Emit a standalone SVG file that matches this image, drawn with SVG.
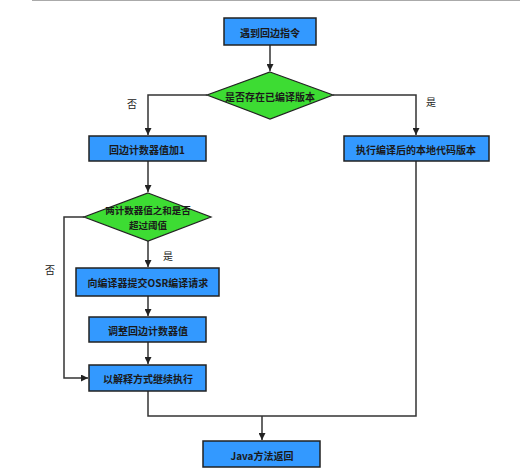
<svg xmlns="http://www.w3.org/2000/svg" width="520" height="475" viewBox="0 0 520 475">
<style>
.box{fill:#3399ff;stroke:#222;stroke-width:1.5}
.dia{fill:#3ddc33;stroke:#222;stroke-width:1.2}
.t{font-family:"Noto Sans CJK SC","Liberation Sans",sans-serif;font-size:10px;font-weight:bold;fill:#1a1a1a;text-anchor:middle;dominant-baseline:central}
.t2{font-size:9.5px}
.lbl{font-family:"Noto Sans CJK SC","Liberation Sans",sans-serif;font-size:10px;fill:#222;text-anchor:middle;dominant-baseline:central}
.c{fill:none;stroke:#333;stroke-width:1.5}
</style>
<defs>
<marker id="ah" viewBox="0 0 10 10" refX="10" refY="5" markerWidth="7" markerHeight="7" markerUnits="userSpaceOnUse" orient="auto">
<path d="M0,0 L10,5 L0,10 Z" fill="#222"/>
</marker>
</defs>
<rect width="520" height="475" fill="#fff"/>
<line x1="32" y1="0.5" x2="520" y2="0.5" stroke="#aaa" stroke-width="1"/>
<g id="connectors">
<path class="c" d="M270,45 V71" marker-end="url(#ah)"/>
<path class="c" d="M207,95 H148 V135" marker-end="url(#ah)"/>
<path class="c" d="M333,95 H416 V135" marker-end="url(#ah)"/>
<path class="c" d="M148,161 V192" marker-end="url(#ah)"/>
<path class="c" d="M148,241 V267" marker-end="url(#ah)"/>
<path class="c" d="M148,296 V316" marker-end="url(#ah)"/>
<path class="c" d="M148,342 V364" marker-end="url(#ah)"/>
<path class="c" d="M84,217 H64 V378 H88" marker-end="url(#ah)"/>
<path class="c" d="M148,391 V416 H416 V161"/>
<path class="c" d="M262,416 V440" marker-end="url(#ah)"/>
<text class="lbl" x="132" y="103">否</text>
<text class="lbl" x="431" y="101">是</text>
<text class="lbl" x="168" y="255">是</text>
<text class="lbl" x="50" y="269">否</text>
</g>
<g id="start"><rect class="box" x="224" y="18" width="92" height="27"/><text class="t" x="270" y="32">遇到回边指令</text></g>
<g id="check-compiled"><polygon class="dia" points="270,72 333,95 270,119 207,95"/><text class="t" x="270" y="96">是否存在已编译版本</text></g>
<g id="inc-counter"><rect class="box" x="89" y="136" width="117" height="25"/><text class="t" x="147" y="149">回边计数器值加1</text></g>
<g id="run-native"><rect class="box" x="344" y="136" width="145" height="25"/><text class="t" x="416" y="149">执行编译后的本地代码版本</text></g>
<g id="check-threshold"><polygon class="dia" points="148,193 211,217 148,241 84,217"/><text class="t t2" x="148" y="210">两计数器值之和是否</text><text class="t t2" x="148" y="224.5">超过阈值</text></g>
<g id="submit-osr"><rect class="box" x="76" y="268" width="143" height="28"/><text class="t" x="148" y="282">向编译器提交OSR编译请求</text></g>
<g id="adjust-counter"><rect class="box" x="89" y="317" width="117" height="25"/><text class="t" x="148" y="330">调整回边计数器值</text></g>
<g id="interpret"><rect class="box" x="89" y="365" width="117" height="26"/><text class="t" x="148" y="378">以解释方式继续执行</text></g>
<g id="return"><rect class="box" x="203" y="441" width="117" height="26"/><text class="t" x="262" y="455">Java方法返回</text></g>
</svg>
